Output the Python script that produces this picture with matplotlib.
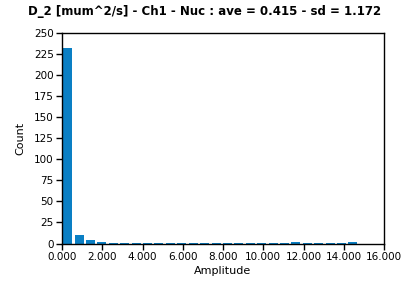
import matplotlib
matplotlib.use("Agg")
import matplotlib.pyplot as plt
import numpy as np

title = "D_2 [mum^2/s] - Ch1 - Nuc : ave = 0.415 - sd = 1.172"
bin_width = 0.567
counts = [232, 10, 4, 2, 1, 1, 1, 1, 1, 1, 1, 1, 1, 1, 1, 1, 1, 1, 1, 1, 2, 1, 1, 1, 1, 2]
xticks = [0, 2, 4, 6, 8, 10, 12, 14, 16]
yticks = [0, 25, 50, 75, 100, 125, 150, 175, 200, 225, 250]

centers = (np.arange(len(counts)) + 0.5) * bin_width

fig = plt.figure(figsize=(4.08, 2.87), dpi=100)
ax = fig.add_axes([62/408, 1 - 243.5/287, (384-62)/408, (243.5-33)/287])
ax.bar(centers, counts, width=bin_width*0.79, color="#0a7fc4")
ax.set_xlim(0, 16)
ax.set_ylim(0, 250)
ax.set_xticks(xticks)
ax.set_xticklabels([f"{v:.3f}" for v in xticks])
ax.set_yticks(yticks)
ax.tick_params(direction="out", length=4, width=1, labelsize=7.5, pad=2)
for s in ax.spines.values():
    s.set_linewidth(1)
ax.set_xlabel("Amplitude", fontsize=8, labelpad=3)
ax.set_ylabel("Count", fontsize=8, labelpad=6)
fig.text(205/408, 1 - 12/287, title, ha="center", va="center", fontsize=8.5, fontweight="bold")
fig.savefig("out.png", dpi=100)
